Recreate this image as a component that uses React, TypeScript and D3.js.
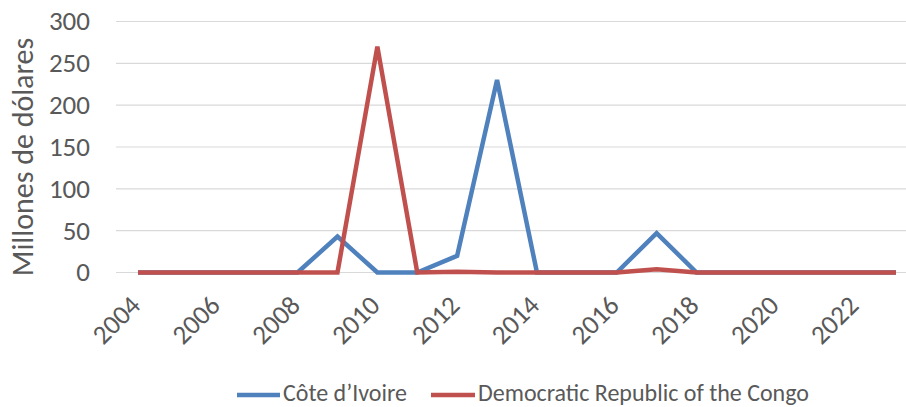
import React from 'react';
import * as d3 from 'd3';

const years = d3.range(2004, 2024);
const tickYears = [2004, 2006, 2008, 2010, 2012, 2014, 2016, 2018, 2020, 2022];
const yTicks = [0, 50, 100, 150, 200, 250, 300];

// Côte d'Ivoire, 2004..2023
const civ = [0, 0, 0, 0, 0, 43, 0, 0, 20, 230, 0, 0, 0, 47, 0, 0, 0, 0, 0, 0];
// Democratic Republic of the Congo, 2004..2023
const drc = [0, 0, 0, 0, 0, 0, 270, 0, 1, 0, 0, 0, 0, 4, 0, 0, 0, 0, 0, 0];

const seriesNames = ["Côte d’Ivoire", 'Democratic Republic of the Congo'];
const COLORS = ['#4f81bd', '#c0504d'];

const W = 906;
const H = 407;
const FONT = "Carlito, 'Open Sans', 'Liberation Sans', sans-serif";
const TEXT = '#595959';

export default function App() {
  const x = d3.scalePoint<number>().domain(years).range([138, 896]);
  const y = d3.scaleLinear().domain([0, 300]).range([272.5, 21.5]);

  const line = d3.line<number>()
    .x((_, i) => x(years[i]) ?? 0)
    .y((d) => y(d));

  return (
    <div style={{ position: 'fixed', left: 0, top: 0 }}>
      <svg width={W} height={H} style={{ display: 'block', background: '#fff' }} fontFamily={FONT}>
        {yTicks.map((t) => (
          <g key={t}>
            <line x1={116} x2={W} y1={y(t)} y2={y(t)} stroke="#d9d9d9" strokeWidth={1.2} />
            <text x={90} y={y(t)} dy="0.33em" textAnchor="end" fontSize={27} fill={TEXT}>{t}</text>
          </g>
        ))}
        <text
          transform={`translate(33,${157}) rotate(-90)`}
          textAnchor="middle"
          fontSize={30}
          fill={TEXT}
        >
          Millones de dólares
        </text>
        {tickYears.map((yr) => (
          <text
            key={yr}
            transform={`translate(${(x(yr) ?? 0) + 4},${307}) rotate(-45)`}
            textAnchor="end"
            fontSize={27}
            fill={TEXT}
          >
            {yr}
          </text>
        ))}
        <path d={line(civ) ?? ''} fill="none" stroke={COLORS[0]} strokeWidth={4.5} strokeLinejoin="miter" />
        <path d={line(drc) ?? ''} fill="none" stroke={COLORS[1]} strokeWidth={4.5} strokeLinejoin="miter" />
        <g fontSize={24} fill={TEXT}>
          <line x1={237} x2={280} y1={395} y2={395} stroke={COLORS[0]} strokeWidth={4.5} />
          <text x={283} y={401}>{seriesNames[0]}</text>
          <line x1={431} x2={475} y1={395} y2={395} stroke={COLORS[1]} strokeWidth={4.5} />
          <text x={478} y={401}>{seriesNames[1]}</text>
        </g>
      </svg>
    </div>
  );
}
